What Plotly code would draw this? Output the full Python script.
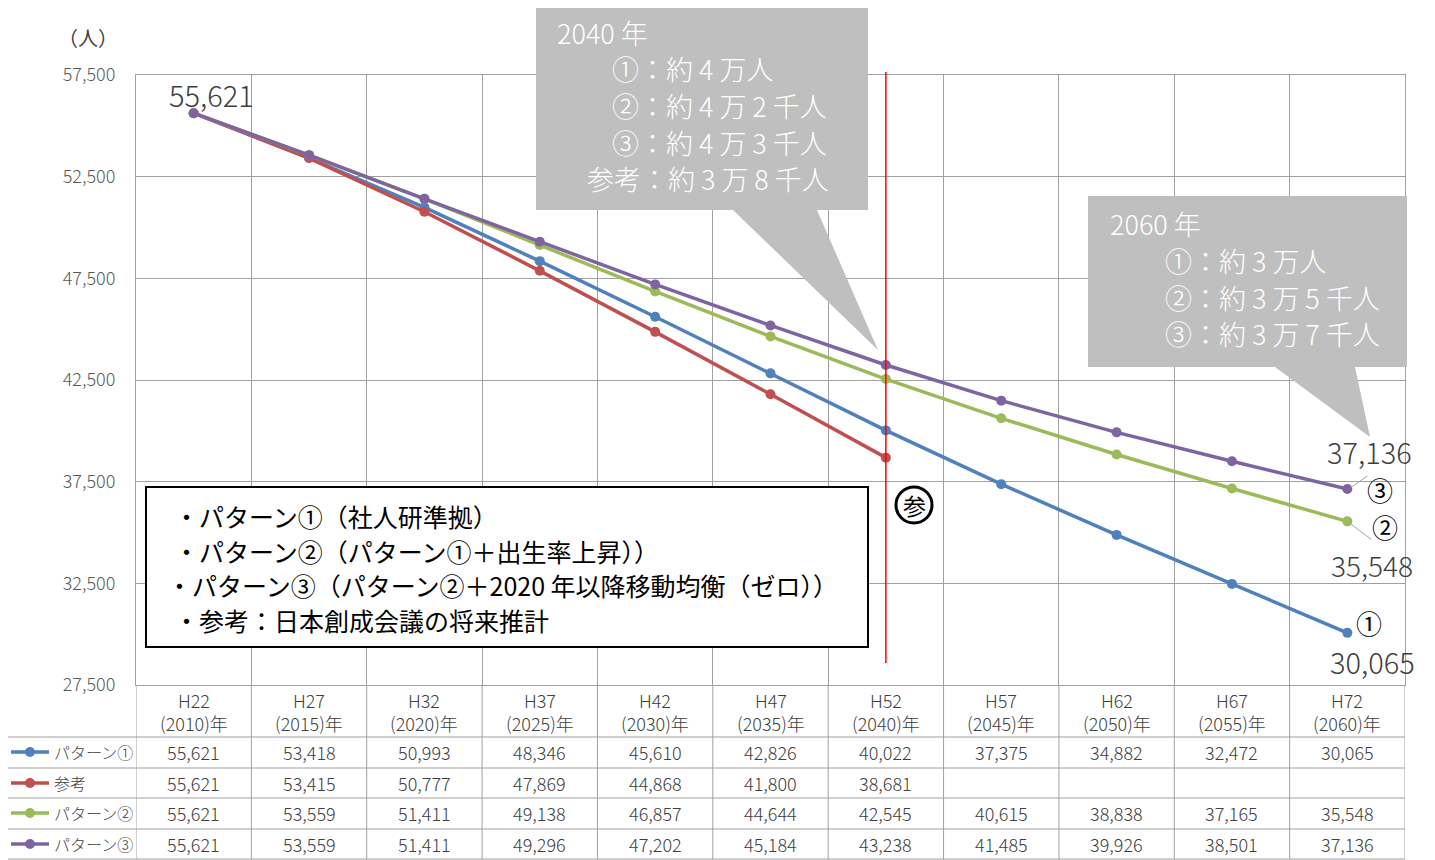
import plotly.graph_objects as go

# 人口の将来推計（パターン別）
heisei = ["H22", "H27", "H32", "H37", "H42", "H47", "H52", "H57", "H62", "H67", "H72"]
years = [2010, 2015, 2020, 2025, 2030, 2035, 2040, 2045, 2050, 2055, 2060]

pattern1 = [55621, 53418, 50993, 48346, 45610, 42826, 40022, 37375, 34882, 32472, 30065]
sanko = [55621, 53415, 50777, 47869, 44868, 41800, 38681, None, None, None, None]
pattern2 = [55621, 53559, 51411, 49138, 46857, 44644, 42545, 40615, 38838, 37165, 35548]
pattern3 = [55621, 53559, 51411, 49296, 47202, 45184, 43238, 41485, 39926, 38501, 37136]

series_names = ["パターン①", "参考", "パターン②", "パターン③"]
series_values = [pattern1, sanko, pattern2, pattern3]
series_colors = ["#4F81BD", "#C0504D", "#9BBB59", "#8064A2"]

y_ticks = [27500, 32500, 37500, 42500, 47500, 52500, 57500]

callout_2040 = ["2040 年", "①：約 4 万人", "②：約 4 万 2 千人", "③：約 4 万 3 千人", "参考：約 3 万 8 千人"]
callout_2060 = ["2060 年", "①：約 3 万人", "②：約 3 万 5 千人", "③：約 3 万 7 千人"]
notes = [
    "・パターン①（社人研準拠）",
    "・パターン②（パターン①＋出生率上昇））",
    "・パターン③（パターン②＋2020 年以降移動均衡（ゼロ））",
    "・参考：日本創成会議の将来推計",
]

# page has an 8px body margin, so the figure is a bit smaller and shifted
OFF = 8
W, H = 1435 - OFF, 860 - OFF
L, R, T, B = 136 - OFF, 30, 75 - OFF, 175
FONT = "Noto Sans CJK JP"
GRID = "#A0A0A0"
TXT = "#404040"


def px(X):
    return (X - OFF - L) / (W - L - R)


def py(Y):
    return (H - B - (Y - OFF)) / (H - T - B)


fig = go.Figure()

for name, vals, col in zip(series_names, series_values, series_colors):
    fig.add_trace(
        go.Scatter(
            x=list(range(len(vals))),
            y=vals,
            mode="lines+markers",
            name=name,
            line=dict(color=col, width=3.5),
            marker=dict(color=col, size=10),
            connectgaps=False,
        )
    )

shapes = []
annotations = []


def text(txt, X, Y, size, color=TXT, xanchor="center", weight=None):
    annotations.append(dict(text=txt, xref="paper", yref="paper", x=px(X), y=py(Y),
                            xanchor=xanchor, yanchor="middle", showarrow=False,
                            font=dict(size=size, color=color, family=FONT, weight=weight)))


# red line at 2040
shapes.append(dict(type="line", xref="x", yref="paper", x0=6, x1=6, y0=py(663), y1=py(72),
                   line=dict(color="#FF0000", width=1.5), layer="above"))

# circled 参
shapes.append(dict(type="circle", xref="paper", yref="paper", x0=px(896), x1=px(932),
                   y0=py(523), y1=py(487), line=dict(color="black", width=3), layer="above"))
text("参", 914, 505, 23, color="black")


# callouts
def callout(x0, y0, x1, y1, b0, b1, tip):
    pts = [(x0, y0), (x1, y0), (x1, y1), (b1, y1), tip, (b0, y1), (x0, y1)]
    path = "M " + " L ".join(f"{px(a):.5f},{py(b):.5f}" for a, b in pts) + " Z"
    return dict(type="path", xref="paper", yref="paper", path=path,
                fillcolor="#BFBFBF", line=dict(width=0), layer="above")


shapes.append(callout(536, 5, 868, 210, 733, 817, (878, 350)))
shapes.append(callout(1088, 196, 1407, 367, 1275, 1355, (1370, 437)))

c1_pos = [(555, 33), (610, 69), (610, 105), (610, 142), (585, 178)]
for txt, (X, Y) in zip(callout_2040, c1_pos):
    text(txt, X, Y, 27, color="white", xanchor="left", weight=300)
c2_pos = [(1108, 223), (1163, 260), (1163, 297), (1163, 333)]
for txt, (X, Y) in zip(callout_2060, c2_pos):
    text(txt, X, Y, 27, color="white", xanchor="left", weight=300)

# notes box
shapes.append(dict(type="rect", xref="paper", yref="paper", x0=px(146), x1=px(868),
                   y0=py(647), y1=py(487), fillcolor="white",
                   line=dict(color="black", width=2), layer="above"))
for i, txt in enumerate(notes):
    X = 165 if i == 2 else 172
    text(txt, X, 516 + i * 34.7, 25, color="black", xanchor="left")

# data labels
last = len(pattern1) - 1


def label(x, y, txt, dx, dy, size=29, color=TXT, weight=300):
    annotations.append(dict(text=txt, x=x, y=y, xref="x", yref="y", xshift=dx, yshift=dy,
                            xanchor="center", yanchor="middle", showarrow=False,
                            font=dict(size=size, color=color, family=FONT, weight=weight)))


label(0, pattern3[0], f"{pattern3[0]:,}", 18, 19)
label(last, pattern3[last], f"{pattern3[last]:,}", 22, 38)
label(last, pattern3[last], "③", 33, 0, size=26, color="black", weight=400)
label(last, pattern2[last], "②", 38, -5, size=26, color="black", weight=400)
label(last, pattern2[last], f"{pattern2[last]:,}", 25, -44, size=28)
label(last, pattern1[last], "①", 22, 10, size=26, color="black", weight=400)
label(last, pattern1[last], f"{pattern1[last]:,}", 25, -28)

shapes.append(dict(type="line", xref="x", yref="y", xsizemode="pixel", ysizemode="pixel",
                   xanchor=last, yanchor=pattern3[last], x0=4, x1=20, y0=2, y1=13,
                   line=dict(color="#A6A6A6", width=1), layer="above"))
shapes.append(dict(type="line", xref="x", yref="y", xsizemode="pixel", ysizemode="pixel",
                   xanchor=last, yanchor=pattern2[last], x0=4, x1=24, y0=-3, y1=-18,
                   line=dict(color="#A6A6A6", width=1), layer="above"))

# data table
row_lines = [737, 768, 798, 829, 859]
for Y in row_lines:
    shapes.append(dict(type="line", xref="paper", yref="paper", x0=px(7), x1=1, y0=py(Y), y1=py(Y),
                       line=dict(color=GRID, width=1)))
for k in range(len(heisei) + 1):
    shapes.append(dict(type="line", xref="x", yref="paper", x0=k - 0.5, x1=k - 0.5,
                       y0=py(859), y1=0, line=dict(color=GRID, width=1)))
shapes.append(dict(type="line", xref="paper", yref="paper", x0=px(7), x1=px(7),
                   y0=py(859), y1=py(737), line=dict(color=GRID, width=1)))

for i, (h, yr) in enumerate(zip(heisei, years)):
    annotations.append(dict(text=f"{h}<br>({yr})年", x=i, xref="x", y=py(711), yref="paper",
                            xanchor="center", yanchor="middle", showarrow=False,
                            font=dict(size=18, color=TXT, family=FONT, weight=300)))

row_centers = [752, 783, 813, 844]
for (name, vals, col), Yc in zip(zip(series_names, series_values, series_colors), row_centers):
    shapes.append(dict(type="line", xref="paper", yref="paper", x0=px(11), x1=px(49),
                       y0=py(Yc), y1=py(Yc), line=dict(color=col, width=3.5)))
    shapes.append(dict(type="circle", xref="paper", yref="paper", x0=px(25), x1=px(35),
                       y0=py(Yc + 5), y1=py(Yc - 5), fillcolor=col, line=dict(color=col, width=0)))
    text(name, 52, Yc, 16, xanchor="left", weight=300)
    for i, v in enumerate(vals):
        if v is None:
            continue
        annotations.append(dict(text=f"{v:,}", x=i, xref="x", y=py(Yc), yref="paper",
                                xanchor="center", yanchor="middle", showarrow=False,
                                font=dict(size=18, color=TXT, family=FONT, weight=300)))

text("（人）", 88, 37, 20)

fig.update_layout(
    width=W,
    height=H,
    margin=dict(l=L, r=R, t=T, b=B),
    paper_bgcolor="white",
    plot_bgcolor="white",
    showlegend=False,
    font=dict(family=FONT),
    xaxis=dict(
        range=[-0.5, len(heisei) - 0.5],
        tickvals=[k - 0.5 for k in range(len(heisei) + 1)],
        showticklabels=False,
        ticks="",
        showgrid=True,
        gridcolor=GRID,
        zeroline=False,
        showline=True,
        mirror=True,
        linecolor=GRID,
    ),
    yaxis=dict(
        range=[y_ticks[0], y_ticks[-1]],
        tickvals=y_ticks,
        ticktext=[f"{v:,}" for v in y_ticks],
        tickfont=dict(size=18, color="#595959", family=FONT, weight=300),
        ticks="",
        ticklabelstandoff=16,
        showgrid=True,
        gridcolor=GRID,
        zeroline=False,
        showline=True,
        mirror=True,
        linecolor=GRID,
    ),
    shapes=shapes,
    annotations=annotations,
)

fig.write_html("out.html")
